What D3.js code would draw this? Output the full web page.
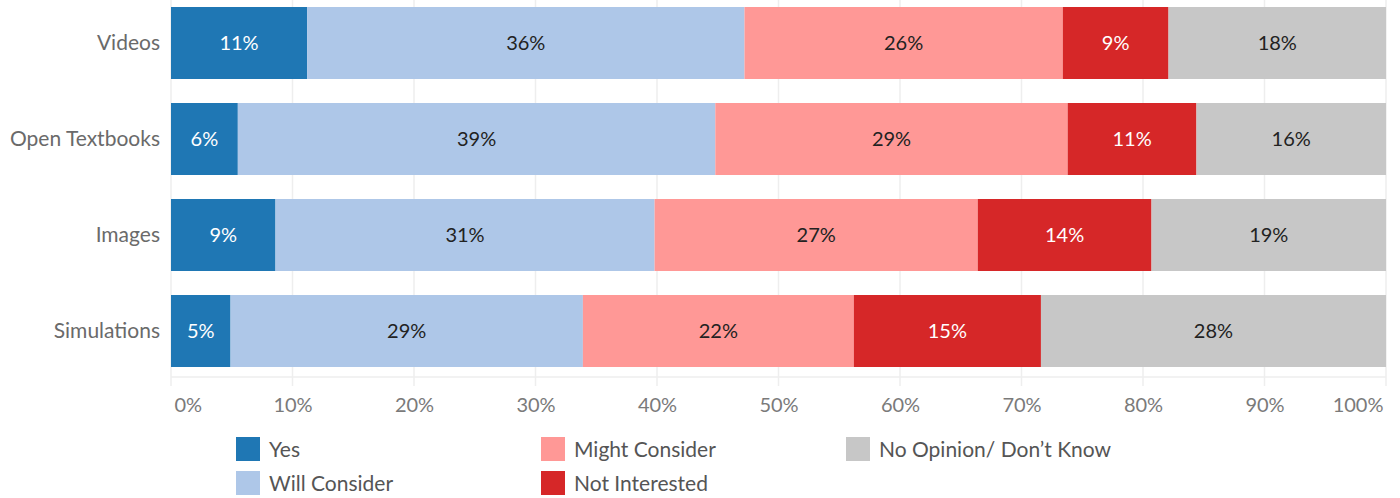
<!DOCTYPE html>
<html>
<head>
<meta charset="utf-8">
<script src="https://cdn.jsdelivr.net/npm/d3@7"></script>
<style>
  html, body { margin: 0; padding: 0; background: #fff; }
  svg { display: block; font-family: Lato, "Open Sans", sans-serif; }
</style>
</head>
<body>
<svg id="chart" width="1400" height="498"></svg>
<script>
// Survey: willingness to adopt open educational resources, by resource type (% of respondents)
const categories = ["Videos", "Open Textbooks", "Images", "Simulations"];
const responses = ["Yes", "Will Consider", "Might Consider", "Not Interested", "No Opinion/ Don\u2019t Know"];
const yesValues          = [11.2, 5.5, 8.6, 4.9];
const willConsider       = [36.0, 39.3, 31.2, 29.0];
const mightConsider      = [26.2, 29.0, 26.6, 22.3];
const notInterested      = [8.7, 10.6, 14.3, 15.4];
const noOpinion          = [17.9, 15.6, 19.3, 28.4];
const tickValues = [0, 10, 20, 30, 40, 50, 60, 70, 80, 90, 100];

const seriesValues = [yesValues, willConsider, mightConsider, notInterested, noOpinion];
const colors = ["#1f77b4", "#aec7e8", "#ff9896", "#d62728", "#c7c7c7"];
const labelColors = ["#ffffff", "#222222", "#222222", "#ffffff", "#222222"];

const rows = categories.map((c, i) => {
  const r = { category: c };
  responses.forEach((k, j) => { r[k] = seriesValues[j][i]; });
  return r;
});

const svg = d3.select("#chart");
const x = d3.scaleLinear().domain([0, 100]).range([171, 1386]);
const y = d3.scaleBand().domain(categories).range([-5, 379]).paddingInner(0.25).paddingOuter(0.125);
const axisY = 377;

// vertical gridlines
svg.append("g")
  .selectAll("line")
  .data(tickValues)
  .join("line")
  .attr("x1", d => x(d)).attr("x2", d => x(d))
  .attr("y1", 0).attr("y2", 386)
  .attr("stroke", "#eeeeee")
  .attr("stroke-width", 1.5);

// baseline under the bars
svg.append("line")
  .attr("x1", x(0)).attr("x2", x(100))
  .attr("y1", axisY).attr("y2", axisY)
  .attr("stroke", "#eeeeee")
  .attr("stroke-width", 1.5);

// stacked bars
const stacked = d3.stack().keys(responses)(rows);
const layers = svg.append("g")
  .selectAll("g")
  .data(stacked)
  .join("g")
  .attr("fill", (d, i) => colors[i]);

layers.selectAll("rect")
  .data(d => d)
  .join("rect")
  .attr("x", d => x(d[0]))
  .attr("y", d => y(d.data.category))
  .attr("width", d => x(d[1]) - x(d[0]))
  .attr("height", y.bandwidth());

// segment value labels
const pct = v => Math.round(v) + "%";
svg.append("g")
  .selectAll("g")
  .data(stacked)
  .join("g")
  .attr("fill", (d, i) => labelColors[i])
  .selectAll("text")
  .data(d => d.map(p => ({ p, key: d.key })))
  .join("text")
  .attr("x", d => (x(d.p[0]) + x(d.p[1])) / 2)
  .attr("y", d => y(d.p.data.category) + y.bandwidth() / 2)
  .attr("dy", "0.36em")
  .attr("text-anchor", "middle")
  .attr("font-size", 20)
  .text(d => pct(d.p[1] - d.p[0]));

// category axis
const yAxis = svg.append("g")
  .attr("transform", `translate(${x(0)},0)`)
  .call(d3.axisLeft(y).tickSize(0).tickPadding(11));
yAxis.select(".domain").remove();
yAxis.selectAll("text")
  .attr("font-size", 21)
  .attr("fill", "#6a6a6a")
  .attr("font-family", "Lato, 'Open Sans', sans-serif");

// percentage axis
const xAxis = svg.append("g")
  .attr("transform", `translate(0,${axisY})`)
  .call(d3.axisBottom(x).tickValues(tickValues).tickSize(0).tickPadding(21).tickFormat(d => d + "%"));
xAxis.select(".domain").remove();
xAxis.selectAll("text")
  .attr("font-size", 20)
  .attr("fill", "#7a7a7a")
  .attr("font-family", "Lato, 'Open Sans', sans-serif")
  .attr("text-anchor", d => d === 0 ? "start" : d === 100 ? "end" : "middle")
  .attr("dx", d => d === 0 ? 3 : d === 100 ? -3 : 0);

// legend
const legendItems = [
  { key: responses[0], col: 0, row: 0 },
  { key: responses[1], col: 0, row: 1 },
  { key: responses[2], col: 1, row: 0 },
  { key: responses[3], col: 1, row: 1 },
  { key: responses[4], col: 2, row: 0 }
];
const legend = svg.append("g")
  .selectAll("g")
  .data(legendItems)
  .join("g")
  .attr("transform", d => `translate(${236 + d.col * 305},${437 + d.row * 34})`);
legend.append("rect")
  .attr("width", 24).attr("height", 24)
  .attr("fill", d => colors[responses.indexOf(d.key)]);
legend.append("text")
  .attr("x", 33).attr("y", 12).attr("dy", "0.36em")
  .attr("font-size", 21)
  .attr("fill", "#555555")
  .text(d => d.key);
</script>
</body>
</html>
